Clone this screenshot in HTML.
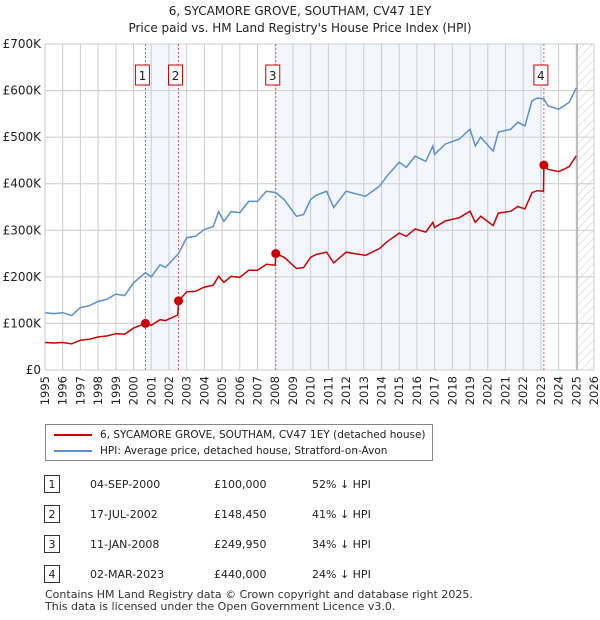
<!DOCTYPE html>
<html><head><meta charset="utf-8"><style>
body{margin:0;background:#fff;font-family:"DejaVu Sans","Liberation Sans",sans-serif;color:#222}
#wrap{position:relative;width:600px;height:620px;overflow:hidden}
.t{position:absolute;font-size:12px}
</style></head><body><div id="wrap">
<div class="t" style="left:0;width:600px;top:3px;text-align:center;font-size:12px;line-height:17px">6, SYCAMORE GROVE, SOUTHAM, CV47 1EY<br>Price paid vs. HM Land Registry's House Price Index (HPI)</div>
<svg id="chart" width="600" height="410" style="position:absolute;left:0;top:0;font-family:'DejaVu Sans',sans-serif"></svg>
<div style="position:absolute;left:45px;top:424px;width:388px;height:37px;border:1px solid #888;box-sizing:border-box">
<div style="position:absolute;left:8px;top:4px;font-size:10.5px;white-space:nowrap"><span style="display:inline-block;width:38px;height:2px;background:#cc0000;vertical-align:middle;margin-right:8px"></span>6, SYCAMORE GROVE, SOUTHAM, CV47 1EY (detached house)</div>
<div style="position:absolute;left:8px;top:20px;font-size:10.5px;white-space:nowrap"><span style="display:inline-block;width:38px;height:2px;background:#5b8fd0;vertical-align:middle;margin-right:8px"></span>HPI: Average price, detached house, Stratford-on-Avon</div>
</div>
<div id="tbl"></div>
<div class="t" style="left:45px;top:589px;font-size:11px;line-height:12px;color:#333">Contains HM Land Registry data © Crown copyright and database right 2025.<br>This data is licensed under the Open Government Licence v3.0.</div>
</div>
<script>
const hpiYears=[1995.0,1995.5,1996.0,1996.5,1997.0,1997.5,1998.0,1998.5,1999.0,1999.5,2000.0,2000.67,2001.0,2001.5,2001.8,2002.54,2003.0,2003.5,2004.0,2004.5,2004.8,2005.1,2005.5,2006.0,2006.5,2007.0,2007.5,2008.03,2008.5,2009.2,2009.6,2010.0,2010.3,2010.9,2011.3,2012.0,2013.1,2013.9,2014.3,2015.0,2015.4,2015.9,2016.5,2016.9,2017.0,2017.6,2018.4,2019.0,2019.3,2019.6,2020.3,2020.6,2021.3,2021.7,2022.1,2022.5,2022.8,2023.17,2023.4,2024.0,2024.3,2024.6,2025.0];
const hpiValues=[123,121,123,117,134,138,147,152,163,160,187,209,200,226,220,250,284,287,302,308,340,319,340,338,362,362,384,381,366,330,334,366,375,384,349,384,373,395,416,446,435,459,448,481,463,485,496,517,481,500,470,511,517,532,524,578,584,582,567,560,567,575,606];
const propYears=[1995.0,1995.5,1996.0,1996.5,1997.0,1997.5,1998.0,1998.5,1999.0,1999.5,2000.0,2000.67,2001.0,2001.5,2001.8,2002.5,2002.54,2003.0,2003.5,2004.0,2004.5,2004.8,2005.1,2005.5,2006.0,2006.5,2007.0,2007.5,2008.0,2008.03,2008.5,2009.2,2009.6,2010.0,2010.3,2010.9,2011.3,2012.0,2013.1,2013.9,2014.3,2015.0,2015.4,2015.9,2016.5,2016.9,2017.0,2017.6,2018.4,2019.0,2019.3,2019.6,2020.3,2020.6,2021.3,2021.7,2022.1,2022.5,2022.8,2023.15,2023.17,2023.4,2024.0,2024.3,2024.6,2025.0];
const propValues=[59,58,59,56,64,66,71,73,78,77,90,100,96,108,106,118,148.45,168,169,178,182,201,188,201,199,214,214,227,225,249.95,242,218,220,242,248,253,230,253,246,261,275,294,287,303,296,317,306,320,327,341,317,330,310,337,341,351,346,381,385,384,440,431,426,431,437,460];
const saleYears=[2000.67,2002.54,2008.03,2023.17];
const saleValues=[100,148.45,249.95,440];
const saleLabels=["1","2","3","4"];
const saleDates=["04-SEP-2000","17-JUL-2002","11-JAN-2008","02-MAR-2023"];
const salePrices=["£100,000","£148,450","£249,950","£440,000"];
const saleDiffs=["52% ↓ HPI","41% ↓ HPI","34% ↓ HPI","24% ↓ HPI"];
const yTicks=[0,100,200,300,400,500,600,700];
const yTickLabels=["£0","£100K","£200K","£300K","£400K","£500K","£600K","£700K"];
const xTicks=[1995,1996,1997,1998,1999,2000,2001,2002,2003,2004,2005,2006,2007,2008,2009,2010,2011,2012,2013,2014,2015,2016,2017,2018,2019,2020,2021,2022,2023,2024,2025,2026];

const L=45,R=594,T=44,B=370;
const X=y=>L+(y-1995)/(2026-1995)*(R-L);
const Y=v=>B-v/700*(B-T);
const svg=document.getElementById('chart');
const NS='http://www.w3.org/2000/svg';
function mk(tag,attrs,parent){const e=document.createElementNS(NS,tag);for(const k in attrs)e.setAttribute(k,attrs[k]);(parent||svg).appendChild(e);return e;}
let r=mk('rect',{x:X(saleYears[0]),y:T,width:X(saleYears[1])-X(saleYears[0]),height:B-T,fill:'#eef3fc',opacity:0.7});


r=mk('rect',{x:X(saleYears[2]),y:T,width:X(saleYears[3])-X(saleYears[2]),height:B-T,fill:'#eef3fc',opacity:0.7});


const defs=mk('defs',{});
const pat=mk('pattern',{id:'h',width:6,height:6,patternUnits:'userSpaceOnUse',patternTransform:'rotate(45)'},defs);
mk('line',{x1:0,y1:0,x2:0,y2:6,stroke:'#ccc','stroke-width':1},pat);
r=mk('rect',{x:X(2025.05),y:T,width:R-X(2025.05),height:B-T,fill:'url(#h)'});


xTicks.forEach(t=>{const l=mk('line',{x1:X(t),x2:X(t),y1:T,y2:B,stroke:'#cccccc','stroke-width':1});


const tx=mk('text',{x:0,y:0,'font-size':11.5,'text-anchor':'end',fill:'#222',transform:'translate('+(X(t)+4)+','+(B+6)+') rotate(-90)'});tx.textContent=t;

});
yTicks.forEach((t,i)=>{const l=mk('line',{x1:L,x2:R,y1:Y(t),y2:Y(t),stroke:'#cccccc','stroke-width':1});


const tx=mk('text',{x:L-4,y:Y(t)+4,'font-size':12,'text-anchor':'end',fill:'#222'});tx.textContent=yTickLabels[i];

});
let bl=mk('line',{x1:X(2025.05),x2:X(2025.05),y1:T,y2:B,stroke:'#999','stroke-width':1});


saleYears.forEach((s,i)=>{const l=mk('line',{x1:X(s),x2:X(s),y1:T,y2:B,stroke:'#e06060','stroke-width':1,'stroke-dasharray':'2,2'});


const g=mk('g',{});


mk('rect',{x:X(s)-10,y:65,width:14,height:20,fill:'#fff',stroke:'#cc0000','stroke-width':1},g);
const tx=mk('text',{x:X(s)-3,y:80,'font-size':12,'text-anchor':'middle',fill:'#222'},g);tx.textContent=saleLabels[i];});
const pts=(xs,vs)=>xs.map((x,i)=>X(x).toFixed(1)+','+Y(vs[i]).toFixed(1)).join(' ');
let pl=mk('polyline',{points:pts(hpiYears,hpiValues),fill:'none',stroke:'#5b8fd0','stroke-width':1.5});


pl=mk('polyline',{points:pts(propYears,propValues),fill:'none',stroke:'#cc0000','stroke-width':1.5});


saleYears.forEach((s,i)=>{const c=mk('circle',{cx:X(s),cy:Y(saleValues[i]),r:4.5,fill:'#cc0000'});

});
const tbl=document.getElementById('tbl');
const rowY=[484,514,544,574];
saleLabels.forEach((lab,i)=>{
 const row=document.createElement('div');
 
 
 row.style.cssText='position:absolute;left:0;top:'+(rowY[i]-9)+'px;width:600px;height:20px;font-size:11px';
 row.innerHTML='<div style="position:absolute;left:44px;top:0;width:16px;height:18px;border:1px solid #333;box-sizing:border-box;text-align:center;line-height:17px">'+lab+'</div>'+
 '<div style="position:absolute;left:90px;top:3px">'+saleDates[i]+'</div>'+
 '<div style="position:absolute;left:214px;top:3px">'+salePrices[i]+'</div>'+
 '<div style="position:absolute;left:312px;top:3px">'+saleDiffs[i]+'</div>';
 tbl.appendChild(row);
});
</script></body></html>
